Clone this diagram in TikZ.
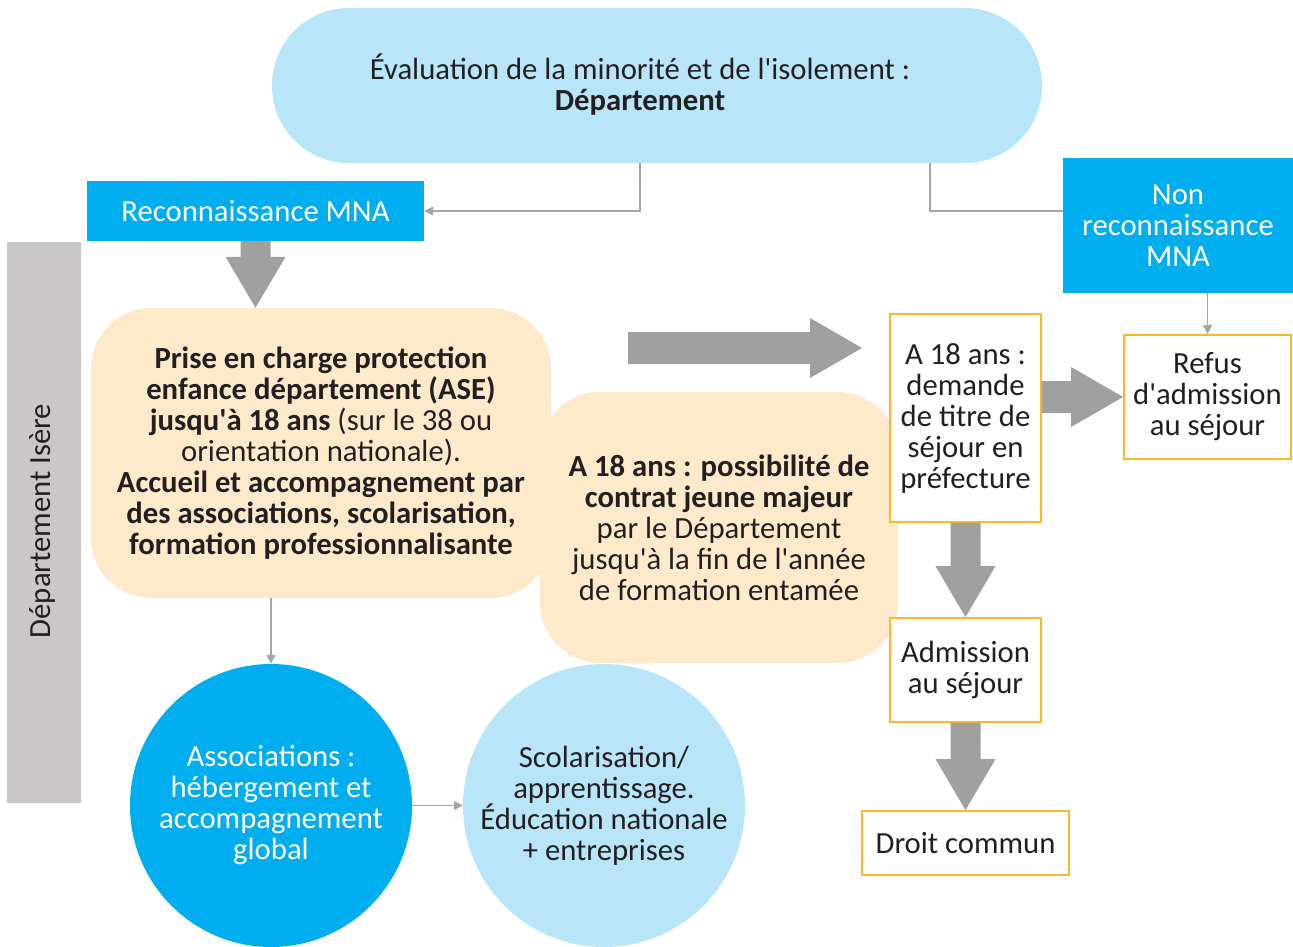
\documentclass[tikz,border=0pt]{standalone}
\usepackage{fontspec}
\setmainfont{Carlito}[Ligatures=TeXOff]
\usetikzlibrary{arrows.meta,calc,shapes.geometric}
\definecolor{cyanb}{HTML}{00AEEF}
\definecolor{lblue}{HTML}{B9E5F9}
\definecolor{beige}{HTML}{FEEACB}
\definecolor{bandgray}{HTML}{C9C7C8}
\definecolor{agray}{HTML}{A0A0A0}
\definecolor{lgray}{HTML}{A6A6A6}
\definecolor{orng}{HTML}{FBB829}
\definecolor{txt}{HTML}{231F20}
\newcommand{\fatdown}[2]{\fill[agray] let \p1=(#1), \p2=(#2) in (\x1-15pt,\y1) -- (\x1-15pt,\y2+51pt) -- (\x1-30pt,\y2+51pt) -- (\x1,\y2) -- (\x1+30pt,\y2+51pt) -- (\x1+15pt,\y2+51pt) -- (\x1+15pt,\y1) -- cycle;}
\newcommand{\fatright}[2]{\fill[agray] let \p1=(#1), \p2=(#2) in (\x1,\y1+16pt) -- (\x2-52pt,\y1+16pt) -- (\x2-52pt,\y1+30pt) -- (\x2,\y1) -- (\x2-52pt,\y1-30pt) -- (\x2-52pt,\y1-16pt) -- (\x1,\y1-16pt) -- cycle;}
\tikzset{
  conn/.style={draw=lgray, line width=1.5pt},
  arr/.style={-{Triangle[length=9pt,width=9pt]}},
  ebox/.style={draw=orng, line width=1.8pt, fill=white, align=center, inner sep=0pt},
  bluebox/.style={fill=cyanb, text=white, align=center, inner sep=0pt},
  beigebox/.style={fill=beige, rounded corners=60pt, align=center, inner sep=0pt},
  circ/.style={ellipse, align=center, inner sep=-30pt, minimum width=282pt, minimum height=283pt}
}
\begin{document}
\begin{tikzpicture}[x=1pt,y=-1pt,font=\fontsize{30.7}{31}\selectfont,text=txt]
\useasboundingbox (0,0) rectangle (1293,947);
% top
\node[fill=lblue, rounded corners=77pt, minimum width=770pt, minimum height=155pt, inner sep=0pt] (eval) at (657,85.5) {};
\node[align=center, inner sep=0pt] (evaltxt) at (640,85) {Évaluation de la minorité et de l'isolement :\\ \textbf{Département}};
\node[bluebox, minimum width=337pt, minimum height=60pt] (reco) at (255.5,211) {Reconnaissance MNA};
\node[bluebox, minimum width=230pt, minimum height=135pt] (nonreco) at (1178,225.5) {Non\\ reconnaissance\\ MNA};
\draw[conn,arr] (eval.south -| evaltxt) |- (reco.east);
\draw[conn] (eval.south -| 930,0) |- (nonreco.west |- reco.east);
% band
\node[fill=bandgray, minimum width=74pt, minimum height=561pt, inner sep=0pt] (band) at (44,522.5) {};
\node[rotate=90, inner sep=0pt] (bandtxt) at (42,521) {Département Isère};
% beige boxes
\node[beigebox, minimum width=460pt, minimum height=290pt] (prise) at (321,453) {\textbf{Prise en charge protection}\\ \textbf{enfance département (ASE)}\\ \textbf{jusqu'à 18 ans} (sur le 38 ou\\ orientation nationale).\\ \textbf{Accueil et accompagnement par}\\ \textbf{des associations, scolarisation,}\\ \textbf{formation professionnalisante}};
\node[beigebox, minimum width=358pt, minimum height=271pt] (jm) at (719,527.5) {\textbf{A 18 ans : possibilité de}\\ \textbf{contrat jeune majeur}\\ par le Département\\ jusqu'à la fin de l'année\\ de formation entamée};
\fatdown{reco.south}{reco.south |- prise.north}
\coordinate (hs) at (628,348);
\coordinate (he) at (862,348);
\fatright{hs}{he}
% right column
\node[ebox, minimum width=151pt, minimum height=208pt] (a18) at (965.5,418) {A 18 ans :\\ demande\\ de titre de\\ séjour en\\ préfecture};
\node[ebox, minimum width=167pt, minimum height=124pt] (refus) at (1207.5,397) {Refus\\ d'admission\\ au séjour};
\node[ebox, minimum width=151pt, minimum height=104pt] (adm) at (965.5,670) {Admission\\ au séjour};
\node[ebox, minimum width=207pt, minimum height=64pt] (droit) at (965.5,843) {Droit commun};
\draw[conn,arr] (nonreco.south -| refus.north) -- (refus.north);
\fatright{a18.east |- refus.west}{refus.west}
\fatdown{a18.south}{adm.north}
\fatdown{adm.south}{droit.north}
% circles
\node[circ, fill=cyanb, text=white] (assoc) at (271,805.5) {Associations :\\ hébergement et\\ accompagnement\\ global};
\node[circ, fill=lblue] (scol) at (604,805.5) {Scolarisation/\\ apprentissage.\\ Éducation nationale\\ + entreprises};
\draw[conn,arr] (prise.south -| assoc.north) -- (assoc.north);
\draw[conn,arr] (assoc.east) -- (scol.west);
\end{tikzpicture}
\end{document}
